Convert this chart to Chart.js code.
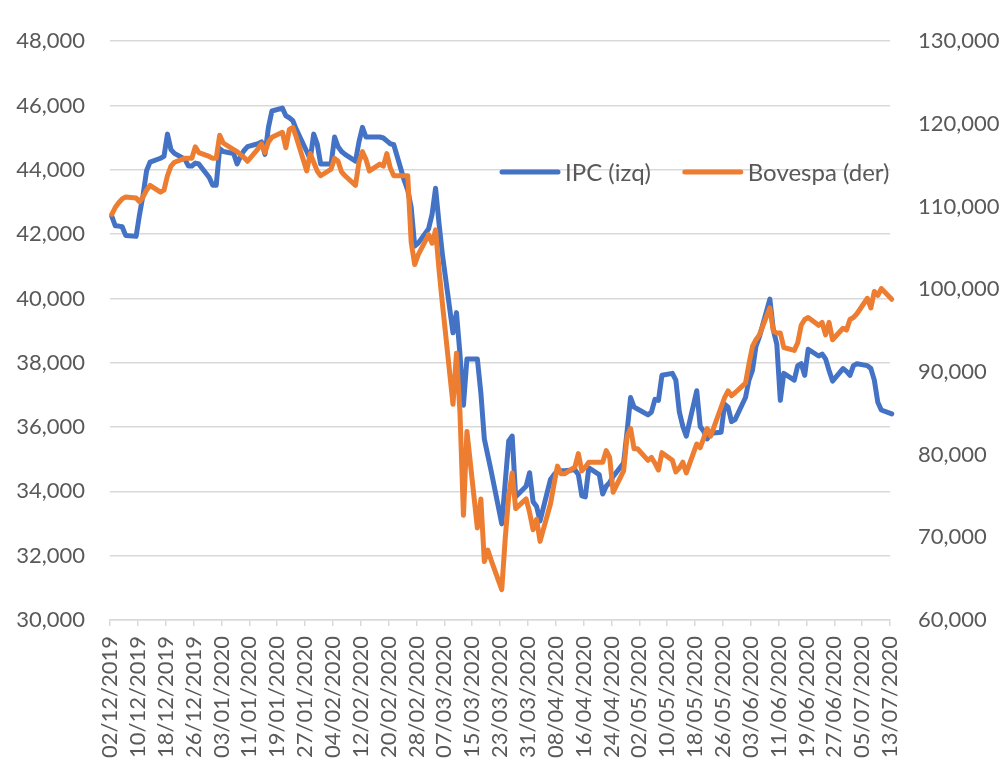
<!DOCTYPE html>
<html>
<head>
<meta charset="utf-8">
<script src="https://cdn.jsdelivr.net/npm/chart.js@4.4.1/dist/chart.umd.min.js"></script>
<style>
  html, body { margin: 0; padding: 0; background: #ffffff; }
  #wrap { width: 1005px; height: 765px; }
</style>
</head>
<body>
<div id="wrap"><canvas id="c" width="1005" height="765"></canvas></div>
<script>
// ---- Data ----
const dates = [
  '02/12/2019','03/12/2019','04/12/2019','05/12/2019','06/12/2019',
  '09/12/2019','10/12/2019','11/12/2019','12/12/2019','13/12/2019',
  '16/12/2019','17/12/2019','18/12/2019','19/12/2019','20/12/2019',
  '23/12/2019','24/12/2019','25/12/2019','26/12/2019','27/12/2019',
  '30/12/2019','31/12/2019','01/01/2020','02/01/2020','03/01/2020',
  '06/01/2020','07/01/2020','08/01/2020','09/01/2020','10/01/2020',
  '13/01/2020','14/01/2020','15/01/2020','16/01/2020','17/01/2020',
  '20/01/2020','21/01/2020','22/01/2020','23/01/2020','24/01/2020',
  '27/01/2020','28/01/2020','29/01/2020','30/01/2020','31/01/2020',
  '03/02/2020','04/02/2020','05/02/2020','06/02/2020','07/02/2020',
  '10/02/2020','11/02/2020','12/02/2020','13/02/2020','14/02/2020',
  '17/02/2020','18/02/2020','19/02/2020','20/02/2020','21/02/2020',
  '24/02/2020','25/02/2020','26/02/2020','27/02/2020','28/02/2020',
  '02/03/2020','03/03/2020','04/03/2020','05/03/2020','06/03/2020',
  '09/03/2020','10/03/2020','11/03/2020','12/03/2020','13/03/2020',
  '16/03/2020','17/03/2020','18/03/2020','19/03/2020','20/03/2020',
  '23/03/2020','24/03/2020','25/03/2020','26/03/2020','27/03/2020',
  '30/03/2020','31/03/2020','01/04/2020','02/04/2020','03/04/2020',
  '06/04/2020','07/04/2020','08/04/2020','09/04/2020','10/04/2020',
  '13/04/2020','14/04/2020','15/04/2020','16/04/2020','17/04/2020',
  '20/04/2020','21/04/2020','22/04/2020','23/04/2020','24/04/2020',
  '27/04/2020','28/04/2020','29/04/2020','30/04/2020','01/05/2020',
  '04/05/2020','05/05/2020','06/05/2020','07/05/2020','08/05/2020',
  '11/05/2020','12/05/2020','13/05/2020','14/05/2020','15/05/2020',
  '18/05/2020','19/05/2020','20/05/2020','21/05/2020','22/05/2020',
  '25/05/2020','26/05/2020','27/05/2020','28/05/2020','29/05/2020',
  '01/06/2020','02/06/2020','03/06/2020','04/06/2020','05/06/2020',
  '08/06/2020','09/06/2020','10/06/2020','11/06/2020','12/06/2020',
  '15/06/2020','16/06/2020','17/06/2020','18/06/2020','19/06/2020',
  '22/06/2020','23/06/2020','24/06/2020','25/06/2020','26/06/2020',
  '29/06/2020','30/06/2020','01/07/2020','02/07/2020','03/07/2020',
  '06/07/2020','07/07/2020','08/07/2020','09/07/2020','10/07/2020',
  '13/07/2020'
];

const ipc = [
  42560, 42260, 42250, 42230, 41960,
  41930, 42620, 43220, 43970, 44240,
  44360, 44420, 45110, 44630, 44510,
  44330, 44120, 44120, 44210, 44180,
  43760, 43520, 43520, 44660, 44570,
  44510, 44180, 44420, 44600, 44720,
  44810, 44870, 44480, 45320, 45830,
  45920, 45680, 45620, 45530, 45260,
  44570, 44330, 45110, 44810, 44180,
  44180, 45020, 44720, 44570, 44480,
  44270, 44870, 45320, 45020, 45020,
  45020, 44990, 44900, 44810, 44780,
  43670, 43370, 42830, 41630, 41720,
  42170, 42620, 43430, 42320, 41330,
  38930, 39560, 38270, 36680, 38120,
  38120, 37070, 35630, 35120, 34610,
  32990, 34280, 35570, 35720, 33830,
  34160, 34580, 33680, 33530, 33080,
  34370, 34520, 34640, 34640, 34640,
  34670, 34520, 33860, 33830, 34730,
  34520, 33920, 34160, 34280, 34460,
  34880, 35870, 36920, 36620, 36560,
  36380, 36470, 36860, 36830, 37610,
  37670, 37460, 36470, 36020, 35720,
  37130, 36020, 35870, 35630, 35810,
  35840, 36710, 36620, 36170, 36230,
  36920, 37460, 37760, 38510, 38810,
  39980, 39020, 38570, 36830, 37670,
  37460, 37910, 37970, 37610, 38420,
  38210, 38270, 38120, 37760, 37430,
  37820, 37730, 37610, 37910, 37970,
  37910, 37820, 37460, 36770, 36530,
  36410
];

const bovespa = [
  109060, 109880, 110460, 110930, 111160,
  111040, 110580, 111160, 111980, 112560,
  111740, 111980, 113730, 114890, 115360,
  115830, 115830, 115830, 117230, 116530,
  116060, 115830, 115830, 118630, 117690,
  116880, 116640, 116290, 115940, 115480,
  116990, 117580, 116530, 117810, 118390,
  118980, 117110, 119330, 119560, 118390,
  114310, 116410, 115360, 114310, 113730,
  114540, 115830, 115480, 114190, 113730,
  112560, 115360, 116640, 115710, 114310,
  115130, 114890, 116410, 114660, 113730,
  113730, 113730, 105680, 102990, 104160,
  106610, 105560, 107190, 102290, 98090,
  86080, 92260, 85140, 72660, 82810,
  71140, 74640, 67060, 68460, 67180,
  63680, 69860, 74990, 77790, 73480,
  74640, 73010, 70910, 72190, 69510,
  74060, 76390, 78610, 77680, 77680,
  78490, 80130, 78030, 78490, 79080,
  79080, 79080, 80480, 79660, 75460,
  78030, 82230, 83160, 80710, 80710,
  79310, 79660, 78960, 78140, 80240,
  79310, 77910, 78380, 79080, 77790,
  81290, 80830, 81990, 83160, 82230,
  85730, 86890, 87710, 87130, 87480,
  88640, 90980, 93080, 93890, 94480,
  97740, 94940, 94710, 94710, 92960,
  92610, 93540, 95640, 96340, 96580,
  95640, 95990, 94480, 95990, 93890,
  95290, 95060, 96340, 96580, 97040,
  98910, 97740, 99730, 99260, 100080,
  98790
];

const tickLabels = [
  '02/12/2019','10/12/2019','18/12/2019','26/12/2019','03/01/2020',
  '11/01/2020','19/01/2020','27/01/2020','04/02/2020','12/02/2020',
  '20/02/2020','28/02/2020','07/03/2020','15/03/2020','23/03/2020',
  '31/03/2020','08/04/2020','16/04/2020','24/04/2020','02/05/2020',
  '10/05/2020','18/05/2020','26/05/2020','03/06/2020','11/06/2020',
  '19/06/2020','27/06/2020','05/07/2020','13/07/2020'
];

const seriesNames = ['IPC (izq)', 'Bovespa (der)'];

// ---- Helpers ----
function dayNumber(s) {
  const p = s.split('/');
  return Date.UTC(+p[2], +p[1] - 1, +p[0]) / 86400000;
}
const day0 = dayNumber(dates[0]);
// each trading day is plotted in the middle of its calendar day (date axis)
const xs = dates.map(d => dayNumber(d) - day0 + 0.5);
const toPoints = vals => vals.map((v, i) => ({ x: xs[i], y: v }));

const TXT = '#595959';
const GRID = '#d9d9d9';
const FAMILY = 'Lato, "Open Sans", sans-serif';
const FONT = { family: FAMILY, size: 22 };

const insideLegend = {
  id: 'insideLegend',
  afterDraw(chart, args, opts) {
    const ctx = chart.ctx;
    ctx.save();
    ctx.font = `${opts.fontSize}px ${FAMILY}`;
    ctx.textBaseline = 'middle';
    ctx.textAlign = 'left';
    let x = opts.x;
    const y = opts.y;
    chart.data.datasets.forEach(ds => {
      ctx.strokeStyle = ds.borderColor;
      ctx.lineWidth = 5;
      ctx.lineCap = 'round';
      ctx.beginPath();
      ctx.moveTo(x + 2, y);
      ctx.lineTo(x + opts.lineLen - 2, y);
      ctx.stroke();
      x += opts.lineLen + 5;
      ctx.fillStyle = TXT;
      ctx.fillText(ds.label, x, y + 1);
      x += ctx.measureText(ds.label).width + opts.gap;
    });
    ctx.restore();
  }
};

const whiteBg = {
  id: 'whiteBg',
  beforeDraw(chart) {
    const ctx = chart.ctx;
    ctx.save();
    ctx.fillStyle = '#ffffff';
    ctx.fillRect(0, 0, chart.width, chart.height);
    ctx.restore();
  }
};

const fmt = v => Number(v).toLocaleString('en-US');

new Chart(document.getElementById('c'), {
  type: 'line',
  data: {
    datasets: [
      {
        label: seriesNames[0],
        data: toPoints(ipc),
        yAxisID: 'y',
        borderColor: '#4472C4',
        backgroundColor: '#4472C4',
        borderWidth: 5,
        pointRadius: 0,
        tension: 0,
        clip: false,
        borderJoinStyle: 'round',
        borderCapStyle: 'round',
        order: 1
      },
      {
        label: seriesNames[1],
        data: toPoints(bovespa),
        yAxisID: 'y1',
        borderColor: '#ED7D31',
        backgroundColor: '#ED7D31',
        borderWidth: 5,
        pointRadius: 0,
        tension: 0,
        clip: false,
        borderJoinStyle: 'round',
        borderCapStyle: 'round',
        order: 0
      }
    ]
  },
  options: {
    responsive: false,
    animation: false,
    devicePixelRatio: 1,
    layout: { padding: { left: 0, right: 0, top: 20, bottom: 0 } },
    plugins: {
      legend: { display: false },
      tooltip: { enabled: false },
      insideLegend: { x: 500, y: 172, lineLen: 60, gap: 32, fontSize: 24 }
    },
    scales: {
      x: {
        type: 'linear',
        min: 0,
        max: 224,
        afterFit: s => { s.height = 145; },
        ticks: {
          stepSize: 8,
          autoSkip: false,
          maxRotation: 90,
          minRotation: 90,
          padding: 10,
          color: TXT,
          font: FONT,
          callback: v => tickLabels[Math.round(v / 8)]
        },
        grid: { drawOnChartArea: false, color: GRID, tickLength: 6, lineWidth: 1.5 },
        border: { color: GRID, width: 1.5 }
      },
      y: {
        position: 'left',
        min: 30000,
        max: 48000,
        afterFit: s => { s.width = 110; },
        ticks: { stepSize: 2000, padding: 25, color: TXT, font: FONT, callback: fmt },
        grid: { color: GRID, lineWidth: 1.5, drawTicks: false },
        border: { display: false }
      },
      y1: {
        position: 'right',
        min: 60000,
        max: 130000,
        afterFit: s => { s.width = 115; },
        ticks: { stepSize: 10000, padding: 28, color: TXT, font: FONT, callback: fmt },
        grid: { drawOnChartArea: false, drawTicks: false },
        border: { display: false }
      }
    }
  },
  plugins: [whiteBg, insideLegend]
});
</script>
</body>
</html>
